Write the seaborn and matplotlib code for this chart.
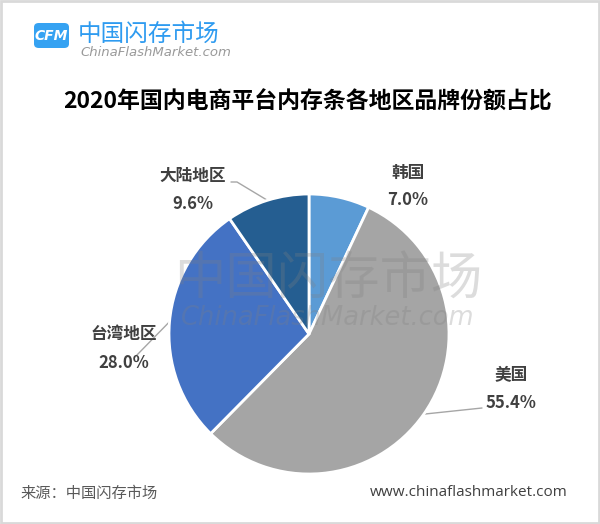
import numpy as np
import matplotlib
matplotlib.use("Agg")
import matplotlib.pyplot as plt
from matplotlib.patches import FancyBboxPatch, Rectangle
import seaborn as sns

# ---- data ----
regions = ["韩国", "美国", "台湾地区", "大陆地区"]
shares = [7.0, 55.4, 28.0, 9.6]
title = "2020年国内电商平台内存条各地区品牌份额占比"
source = "来源：中国闪存市场"
site = "www.chinaflashmarket.com"

sns.set_theme(style="white")
plt.rcParams['font.family'] = ['Noto Sans CJK SC', 'DejaVu Sans']

colors = sns.color_palette(["#5B9BD5", "#A5A5A5", "#4472C4", "#255E91"])

W, H = 600, 524
fig = plt.figure(figsize=(W / 100, H / 100), dpi=100)
fig.patch.set_facecolor("white")

def fp(x, y):
    return (x / W, 1 - y / H)

# pie axes: left 169, top 194, size 280px
ax = fig.add_axes([169 / W, (H - 474) / H, 280 / W, 280 / H])
wedges, _ = ax.pie(shares, colors=colors, startangle=90, counterclock=False,
                   radius=1.0, wedgeprops=dict(edgecolor="white", linewidth=2))
ax.set_xlim(-1, 1)
ax.set_ylim(-1, 1)
ax.set_aspect("equal")
ax.axis("off")

# labels (layout positions in figure pixels)
label_pos = {
    "韩国": (408, 173, 200),
    "美国": (511, 375, 403),
    "台湾地区": (124, 334, 363),
    "大陆地区": (193, 176, 204),
}
lbl_color = "#404040"
for name, val in zip(regions, shares):
    x, yn, yp = label_pos[name]
    fig.text(*fp(x, yn), name, ha="center", va="center", fontsize=12,
             fontweight="bold", color=lbl_color, zorder=5)
    fig.text(*fp(x, yp), f"{val:.1f}%", ha="center", va="center", fontsize=12,
             fontweight="bold", color=lbl_color, zorder=5)

# leader lines: from wedge edge to label
inv = ax.transData.inverted()
def to_data(px, py):
    return inv.transform((px, H - py))

leader_ends = {
    "美国": [(482, 408)],
    "台湾地区": [(135, 357)],
    "大陆地区": [(237, 182), (231, 182)],
}
cum = np.cumsum([0] + shares)
total = cum[-1]
for i, name in enumerate(regions):
    if name not in leader_ends:
        continue
    mid = 90 - 360 * (cum[i] + cum[i + 1]) / 2 / total
    ex, ey = np.cos(np.radians(mid)), np.sin(np.radians(mid))
    pts = [(ex, ey)] + [tuple(to_data(*p)) for p in leader_ends[name]]
    xs, ys = zip(*pts)
    ax.plot(xs, ys, color="#A6A6A6", lw=1, clip_on=False, zorder=0)

# title
fig.text(*fp(308, 102), title, ha="center", va="center", fontsize=16.5,
         fontweight="bold", color="black")

# logo
logo = FancyBboxPatch(fp(34, 48), 35 / W, 25 / H,
                      boxstyle="round,pad=0,rounding_size=0.008",
                      transform=fig.transFigure, facecolor="#35A2F2",
                      edgecolor="none")
fig.add_artist(logo)
fig.text(*fp(51.5, 35.5), "CFM", ha="center", va="center", fontsize=10,
         fontweight="bold", style="italic", color="white",
         family=["DejaVu Sans"])
fig.text(*fp(78, 34), "中国闪存市场", ha="left", va="center", fontsize=17,
         color="#2E9BF0")
fig.text(*fp(80, 53), "ChinaFlashMarket.com", ha="left", va="center",
         fontsize=9.5, style="italic", color="#9A9A9A",
         family=["DejaVu Sans"])

# watermark
fig.text(*fp(328, 280), "中国闪存市场", ha="center", va="center", fontsize=37,
         color="#808080", alpha=0.27, zorder=10)
fig.text(*fp(328, 318), "ChinaFlashMarket.com", ha="center", va="center",
         fontsize=18.5, style="italic", color="#808080", alpha=0.27, zorder=10,
         family=["DejaVu Sans"])

# footer
fig.text(*fp(20, 493), source, ha="left", va="center", fontsize=11,
         color="#595959")
fig.text(*fp(568, 493), site, ha="right", va="center", fontsize=11,
         color="#404040", family=["Open Sans", "DejaVu Sans"])

# border
fig.add_artist(Rectangle((0.0015, 0.002), 0.997, 0.996, transform=fig.transFigure,
                         fill=False, edgecolor="#D9D9D9", linewidth=2))

fig.savefig("out.png", dpi=100, facecolor="white")
